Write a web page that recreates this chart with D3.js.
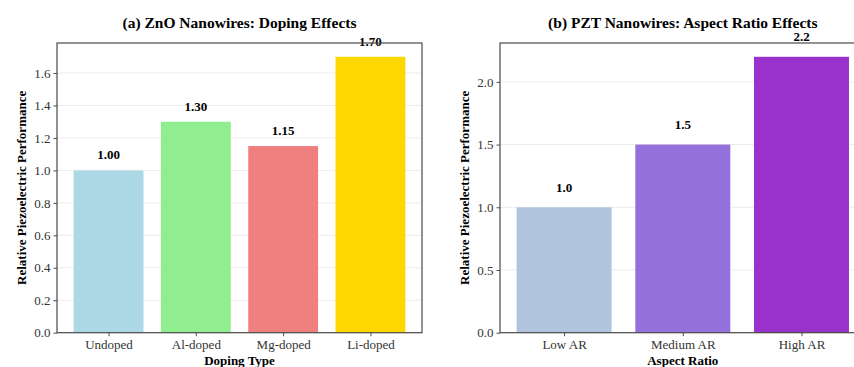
<!DOCTYPE html>
<html>
<head>
<meta charset="utf-8">
<script src="https://cdn.jsdelivr.net/npm/d3@7"></script>
<style>
html,body{margin:0;padding:0;background:#fff;overflow:hidden;}
svg{display:block;}
svg text{font-family:"Liberation Serif","Times New Roman",serif !important;}
</style>
</head>
<body>
<svg id="chart" width="854" height="367"></svg>
<script>
const dopingCategories = ["Undoped", "Al-doped", "Mg-doped", "Li-doped"];
const dopingValues = [1.00, 1.30, 1.15, 1.70];
const dopingColors = ["#ADD8E6", "#90EE90", "#F08080", "#FFD700"];
const dopingLabels = ["1.00", "1.30", "1.15", "1.70"];
const dopingTicks = [0, 0.2, 0.4, 0.6, 0.8, 1.0, 1.2, 1.4, 1.6];

const arCategories = ["Low AR", "Medium AR", "High AR"];
const arValues = [1.0, 1.5, 2.2];
const arColors = ["#B0C4DE", "#9370DB", "#9932CC"];
const arLabels = ["1.0", "1.5", "2.2"];
const arTicks = [0, 0.5, 1.0, 1.5, 2.0];

const svg = d3.select("#chart");

function panel(opts) {
  const {x0, x1, y0, y1, cats, vals, colors, labels, ticks, tickFmt, title, xlabel, ylabelX, labelOffset} = opts;
  const g = svg.append("g");
  const n = cats.length;
  const maxV = d3.max(vals);
  const y = d3.scaleLinear().domain([0, maxV * 1.05]).range([y1, y0]);
  const xl = -0.4 - 0.05 * (n - 1 + 0.8), xr = n - 1 + 0.4 + 0.05 * (n - 1 + 0.8);
  const x = d3.scaleLinear().domain([xl, xr]).range([x0, x1]);

  // grid
  g.selectAll("line.grid").data(ticks).enter().append("line")
    .attr("x1", x0).attr("x2", x1)
    .attr("y1", d => y(d)).attr("y2", d => y(d))
    .attr("stroke", "#b0b0b0").attr("stroke-opacity", 0.3).attr("stroke-width", 0.8);

  // bars
  g.selectAll("rect.bar").data(vals).enter().append("rect")
    .attr("x", (d, i) => x(i - 0.4))
    .attr("width", (d, i) => x(i + 0.4) - x(i - 0.4))
    .attr("y", d => y(d))
    .attr("height", d => y(0) - y(d))
    .attr("fill", (d, i) => colors[i]);

  // value labels
  g.selectAll("text.val").data(vals).enter().append("text")
    .attr("x", (d, i) => x(i)).attr("y", d => y(d + labelOffset) - 3)
    .attr("text-anchor", "middle").attr("font-weight", "bold").attr("font-size", 13)
    .attr("fill", "#000").text((d, i) => labels[i]);

  // spines
  g.append("rect").attr("x", x0).attr("y", y0).attr("width", x1 - x0).attr("height", y1 - y0)
    .attr("fill", "none").attr("stroke", "#4a4a4a").attr("stroke-width", 1.2);

  // y axis
  const ya = g.append("g").attr("transform", `translate(${x0},0)`)
    .call(d3.axisLeft(y).tickValues(ticks).tickFormat(tickFmt).tickSize(3.5).tickPadding(3));
  ya.select(".domain").remove();
  ya.selectAll("line").attr("stroke", "#4a4a4a");
  ya.selectAll("text").attr("font-size", 13).attr("fill", "#333");

  // x axis
  const xa = g.append("g").attr("transform", `translate(0,${y1})`)
    .call(d3.axisBottom(x).tickValues(d3.range(n)).tickFormat(i => cats[i]).tickSize(3.5).tickPadding(4));
  xa.select(".domain").remove();
  xa.selectAll("line").attr("stroke", "#4a4a4a");
  xa.selectAll("text").attr("font-size", 13).attr("fill", "#333");

  // title
  g.append("text").attr("x", (x0 + x1) / 2).attr("y", 28)
    .attr("text-anchor", "middle").attr("font-weight", "bold").attr("font-size", 15.5)
    .attr("fill", "#000").text(title);

  // x label
  g.append("text").attr("x", (x0 + x1) / 2).attr("y", 365)
    .attr("text-anchor", "middle").attr("font-weight", "bold").attr("font-size", 13)
    .attr("fill", "#000").text(xlabel);

  // y label
  g.append("text").attr("transform", `translate(${ylabelX},${(y0 + y1) / 2}) rotate(-90)`)
    .attr("text-anchor", "middle").attr("font-weight", "bold").attr("font-size", 13)
    .attr("fill", "#000").text("Relative Piezoelectric Performance");
}

panel({x0: 57, x1: 422, y0: 43, y1: 332.7, cats: dopingCategories, vals: dopingValues,
  colors: dopingColors, labels: dopingLabels, ticks: dopingTicks, tickFmt: d3.format(".1f"),
  title: "(a) ZnO Nanowires: Doping Effects", xlabel: "Doping Type", ylabelX: 26, labelOffset: 0.05});

panel({x0: 500, x1: 865.6, y0: 43, y1: 332.7, cats: arCategories, vals: arValues,
  colors: arColors, labels: arLabels, ticks: arTicks, tickFmt: d3.format(".1f"),
  title: "(b) PZT Nanowires: Aspect Ratio Effects", xlabel: "Aspect Ratio", ylabelX: 469, labelOffset: 0.1});
</script>
</body>
</html>
